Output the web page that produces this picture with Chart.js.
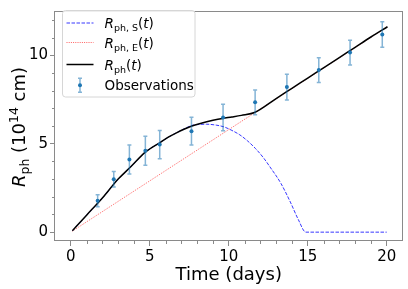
<!DOCTYPE html>
<html><head><meta charset="utf-8">
<script src="https://cdn.jsdelivr.net/npm/chart.js@4.4.1/dist/chart.umd.min.js"></script>
<style>html,body{margin:0;padding:0;background:#fff;}#wrap{width:408px;height:289px;}</style>
</head><body><div id="wrap"><canvas id="c" width="408" height="289"></canvas></div>
<script>
// ---- data ----
const xTickVals = [0, 5, 10, 15, 20];
const yTickVals = [0, 5, 10];
const xMinorVals = [1,2,3,4,6,7,8,9,11,12,13,14,16,17,18,19];
const yMinorVals = [1,2,3,4,6,7,8,9,11,12];

const tPh = [0.1, 1, 2, 3, 3.78, 4.72, 5.67, 6.2, 6.72, 7.2, 7.67, 8.2, 9.0, 9.6, 10.2, 10.8, 11.67, 13, 14, 15, 16, 17, 18, 19, 20.05];
const rPh = [0.08, 0.96, 1.93, 3.0, 3.68, 4.52, 5.08, 5.38, 5.63, 5.83, 6.0, 6.14, 6.32, 6.43, 6.51, 6.6, 6.78, 7.55, 8.13, 8.71, 9.29, 9.87, 10.45, 11.03, 11.61];

const tS = [0.1, 1, 2, 3, 3.78, 4.72, 5.67, 6.2, 6.72, 7.2, 7.7, 8.2, 8.6, 9.2, 9.7, 10.2, 10.7, 11.2, 11.7, 12.2, 12.6, 13.3, 13.9, 14.4, 14.88, 20];
const rS = [0.08, 0.96, 1.93, 3.0, 3.68, 4.52, 5.08, 5.38, 5.63, 5.85, 6.04, 6.09, 6.1, 6.05, 5.95, 5.75, 5.5, 5.15, 4.72, 4.2, 3.7, 2.76, 1.7, 0.72, 0.0, 0.0];

const tE = [0.1, 20.05];
const rE = [0.06, 11.62];

const obsT = [1.7, 2.72, 3.71, 4.72, 5.63, 7.64, 9.64, 11.67, 13.68, 15.7, 17.68, 19.72];
const obsR = [1.78, 2.99, 4.10, 4.60, 4.95, 5.71, 6.48, 7.34, 8.20, 9.16, 10.15, 11.17];
const obsErr = [0.34, 0.44, 0.82, 0.82, 0.80, 0.78, 0.75, 0.70, 0.73, 0.70, 0.70, 0.72];

// ---- styles ----
const FONT = "'DejaVu Sans', 'Liberation Sans', sans-serif";
const BLUE = 'rgba(20,20,255,0.85)';
const RED = 'rgba(255,30,30,0.7)';
const OBS = '#1f77b4';
const OBS_ERR = 'rgba(31,119,180,0.55)';
const SPINE = '#8a8a8a';

const pts = (xs, ys) => xs.map((x, i) => ({x, y: ys[i]}));
const OBS_INDEX = 3;

function drawRuns(ctx, runs, x, y, align) {
  let total = 0;
  runs.forEach(r => { ctx.font = r.font; r.w = ctx.measureText(r.t).width; total += r.w; });
  let cx = align === 'center' ? x - total / 2 : x;
  ctx.textBaseline = 'alphabetic';
  ctx.textAlign = 'left';
  runs.forEach(r => { ctx.font = r.font; ctx.fillText(r.t, cx, y + (r.dy || 0)); cx += r.w; });
}

const errPlugin = {
  id: 'errbars',
  beforeDatasetDraw(chart, args) {
    if (args.index !== OBS_INDEX) return;
    const {ctx, scales: {x, y}} = chart;
    ctx.save();
    ctx.strokeStyle = OBS_ERR;
    ctx.lineWidth = 1.5;
    obsT.forEach((t, i) => {
      const px = x.getPixelForValue(t);
      const p1 = y.getPixelForValue(obsR[i] - obsErr[i]);
      const p2 = y.getPixelForValue(obsR[i] + obsErr[i]);
      ctx.beginPath();
      ctx.moveTo(px, p1); ctx.lineTo(px, p2);
      ctx.moveTo(px - 2, p1); ctx.lineTo(px + 2, p1);
      ctx.moveTo(px - 2, p2); ctx.lineTo(px + 2, p2);
      ctx.stroke();
    });
    ctx.restore();
  }
};

const decoPlugin = {
  id: 'deco',
  afterDraw(chart) {
    const {ctx, chartArea: a, scales: {x, y}} = chart;
    ctx.save();
    // frame
    ctx.strokeStyle = SPINE;
    ctx.lineWidth = 1;
    ctx.strokeRect(Math.round(a.left) - 0.5, Math.round(a.top) + 0.5, Math.round(a.right - a.left), Math.round(a.bottom - a.top) - 1);
    // minor ticks
    ctx.beginPath();
    xMinorVals.forEach(v => { const px = Math.round(x.getPixelForValue(v)) + 0.5; ctx.moveTo(px, a.bottom); ctx.lineTo(px, a.bottom + 3); });
    yMinorVals.forEach(v => { const py = Math.round(y.getPixelForValue(v)) + 0.5; ctx.moveTo(a.left, py); ctx.lineTo(a.left - 3, py); });
    ctx.stroke();

    ctx.fillStyle = '#000';
    // x title
    drawRuns(ctx, [{t: 'Time (days)', font: `18px ${FONT}`}], (a.left + a.right) / 2, 280, 'center');
    // y title (rotated)
    ctx.save();
    ctx.translate(25, (a.top + a.bottom) / 2 + 1);
    ctx.rotate(-Math.PI / 2);
    drawRuns(ctx, [
      {t: 'R', font: `italic 18px ${FONT}`},
      {t: 'ph', font: `12.5px ${FONT}`, dy: 4},
      {t: ' (10', font: `18px ${FONT}`},
      {t: '14', font: `12.5px ${FONT}`, dy: -7.5},
      {t: ' cm)', font: `18px ${FONT}`}
    ], 0, 0, 'center');
    ctx.restore();

    // legend box
    const bx = 62.5, by = 10.5, bw = 132.5, bh = 86.5, r = 3;
    ctx.beginPath();
    ctx.moveTo(bx + r, by); ctx.lineTo(bx + bw - r, by); ctx.arcTo(bx + bw, by, bx + bw, by + r, r);
    ctx.lineTo(bx + bw, by + bh - r); ctx.arcTo(bx + bw, by + bh, bx + bw - r, by + bh, r);
    ctx.lineTo(bx + r, by + bh); ctx.arcTo(bx, by + bh, bx, by + bh - r, r);
    ctx.lineTo(bx, by + r); ctx.arcTo(bx, by, bx + r, by, r);
    ctx.closePath();
    ctx.fillStyle = 'rgba(255,255,255,0.85)';
    ctx.fill();
    ctx.strokeStyle = '#d6d6d6';
    ctx.lineWidth = 1;
    ctx.stroke();

    const lx0 = 66.5, lx1 = 93.5, tx = 104.5;
    const rows = [23, 42.5, 64.5, 85.3];
    // samples
    ctx.lineWidth = 1; ctx.strokeStyle = BLUE; ctx.setLineDash([3.5, 1.5]);
    ctx.beginPath(); ctx.moveTo(lx0, rows[0]); ctx.lineTo(lx1, rows[0]); ctx.stroke();
    ctx.strokeStyle = RED; ctx.setLineDash([1, 1.2]);
    ctx.beginPath(); ctx.moveTo(lx0, rows[1]); ctx.lineTo(lx1, rows[1]); ctx.stroke();
    ctx.setLineDash([]); ctx.strokeStyle = '#000'; ctx.lineWidth = 1.5;
    ctx.beginPath(); ctx.moveTo(lx0, rows[2]); ctx.lineTo(lx1, rows[2]); ctx.stroke();
    const mx = (lx0 + lx1) / 2;
    ctx.strokeStyle = OBS_ERR; ctx.lineWidth = 1.5;
    ctx.beginPath(); ctx.moveTo(mx, rows[3] - 7); ctx.lineTo(mx, rows[3] + 7);
    ctx.moveTo(mx - 2, rows[3] - 7); ctx.lineTo(mx + 2, rows[3] - 7);
    ctx.moveTo(mx - 2, rows[3] + 7); ctx.lineTo(mx + 2, rows[3] + 7); ctx.stroke();
    ctx.fillStyle = OBS; ctx.beginPath(); ctx.arc(mx, rows[3], 2, 0, Math.PI * 2); ctx.fill();

    ctx.fillStyle = '#000';
    const F = 13.5, Fs = 9.5;
    drawRuns(ctx, [{t: 'R', font: `italic ${F}px ${FONT}`}, {t: 'ph, S', font: `${Fs}px ${FONT}`, dy: 3}, {t: '(', font: `${F}px ${FONT}`}, {t: 't', font: `italic ${F}px ${FONT}`}, {t: ')', font: `${F}px ${FONT}`}], tx, rows[0] + 5, 'left');
    drawRuns(ctx, [{t: 'R', font: `italic ${F}px ${FONT}`}, {t: 'ph, E', font: `${Fs}px ${FONT}`, dy: 3}, {t: '(', font: `${F}px ${FONT}`}, {t: 't', font: `italic ${F}px ${FONT}`}, {t: ')', font: `${F}px ${FONT}`}], tx, rows[1] + 5, 'left');
    drawRuns(ctx, [{t: 'R', font: `italic ${F}px ${FONT}`}, {t: 'ph', font: `${Fs}px ${FONT}`, dy: 3}, {t: '(', font: `${F}px ${FONT}`}, {t: 't', font: `italic ${F}px ${FONT}`}, {t: ')', font: `${F}px ${FONT}`}], tx, rows[2] + 5, 'left');
    drawRuns(ctx, [{t: 'Observations', font: `${F}px ${FONT}`}], tx, rows[3] + 5, 'left');
    ctx.restore();
  }
};

const tickFont = {family: FONT, size: 15};
new Chart(document.getElementById('c'), {
  type: 'scatter',
  data: {
    datasets: [
      {label: 'R_ph,S(t)', data: pts(tS, rS), showLine: true, borderColor: BLUE, borderWidth: 1, borderDash: [3.5, 1.5], pointRadius: 0, cubicInterpolationMode: 'monotone', order: 3},
      {label: 'R_ph,E(t)', data: pts(tE, rE), showLine: true, borderColor: RED, borderWidth: 1, borderDash: [1, 1.2], pointRadius: 0, order: 2},
      {label: 'R_ph(t)', data: pts(tPh, rPh), showLine: true, borderColor: '#000', borderWidth: 1.5, pointRadius: 0, cubicInterpolationMode: 'monotone', order: 1},
      {label: 'Observations', data: pts(obsT, obsR), showLine: false, backgroundColor: OBS, borderColor: OBS, pointRadius: 2, pointBorderWidth: 0, order: 0}
    ]
  },
  options: {
    responsive: false, animation: false, devicePixelRatio: 1,
    layout: {padding: {left: 0, top: 5, right: 5.5, bottom: 0}},
    plugins: {legend: {display: false}, tooltip: {enabled: false}},
    scales: {
      x: {
        type: 'linear', min: -1, max: 21,
        afterBuildTicks: s => { s.ticks = xTickVals.map(v => ({value: v})); },
        afterFit: s => { s.height = 48; },
        grid: {display: true, drawOnChartArea: false, drawTicks: true, tickLength: 5, tickColor: SPINE, tickWidth: 1},
        border: {display: false},
        ticks: {font: tickFont, color: '#000', padding: 2, maxRotation: 0, autoSkip: false}
      },
      y: {
        type: 'linear', min: -0.5, max: 12.5,
        afterBuildTicks: s => { s.ticks = yTickVals.map(v => ({value: v})); },
        afterFit: s => { s.width = 55; },
        grid: {display: true, drawOnChartArea: false, drawTicks: true, tickLength: 5, tickColor: SPINE, tickWidth: 1},
        border: {display: false},
        ticks: {font: tickFont, color: '#000', padding: 2, autoSkip: false}
      }
    }
  },
  plugins: [errPlugin, decoPlugin]
});
</script>
</body></html>
